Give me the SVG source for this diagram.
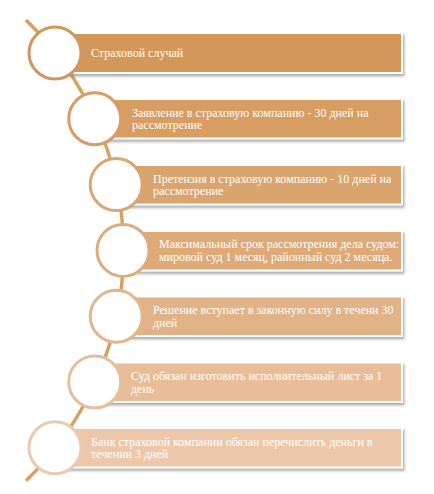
<svg xmlns="http://www.w3.org/2000/svg" width="434" height="494" viewBox="0 0 434 494">
<defs>
<filter id="sh" x="-5%" y="-20%" width="115%" height="160%">
<feDropShadow dx="1.5" dy="2.5" stdDeviation="1.2" flood-color="#707070" flood-opacity="0.55"/>
</filter>
<style>
.bar{stroke:#ffffff;stroke-width:2;filter:url(#sh)}
.dot{fill:#ffffff;stroke-width:3}
.t{font-family:"Liberation Serif","Times New Roman",serif;font-size:12px;fill:#ffffff}
.arc{fill:none;stroke:#D9A062;stroke-width:3.5}
</style>
</defs>
<rect width="434" height="494" fill="#ffffff"/>
<g id="connectors">
<path class="arc" d="M26,20 A321,321 0 0 1 26,480.8"/>
</g>
<g id="n1">
<rect class="bar" x="55" y="33" width="347" height="40" fill="#D4975A"/>
<circle class="dot" cx="55" cy="53" r="26" stroke="#D0985E"/>
<text class="t" x="91" y="57">Страховой случай</text>
</g>
<g id="n2">
<rect class="bar" x="95" y="99" width="307" height="39.5" fill="#D79D63"/>
<circle class="dot" cx="94.7" cy="118.8" r="26" stroke="#D49E66"/>
<text class="t" x="132" y="116.5">Заявление в страховую компанию - 30 дней на</text>
<text class="t" x="132" y="129">рассмотрение</text>
</g>
<g id="n3">
<rect class="bar" x="116" y="165" width="286" height="39.5" fill="#D9A46E"/>
<circle class="dot" cx="116.2" cy="184.6" r="26" stroke="#D8A672"/>
<text class="t" x="153" y="182.5">Претензия в страховую компанию - 10 дней на</text>
<text class="t" x="153" y="195">рассмотрение</text>
</g>
<g id="n4">
<rect class="bar" x="123" y="231" width="279" height="39.5" fill="#DDAA78"/>
<circle class="dot" cx="123" cy="250.4" r="26" stroke="#DCAC7E"/>
<text class="t" x="159" y="248">Максимальный срок рассмотрения дела судом:</text>
<text class="t" x="159" y="260.5">мировой суд 1 месяц, районный суд 2 месяца.</text>
</g>
<g id="n5">
<rect class="bar" x="116" y="296.5" width="286" height="39.5" fill="#E2B387"/>
<circle class="dot" cx="116.2" cy="316.2" r="26" stroke="#E0B68E"/>
<text class="t" x="153" y="314">Решение вступает в законную силу в течени 30</text>
<text class="t" x="153" y="326.5">дней</text>
</g>
<g id="n6">
<rect class="bar" x="95" y="362.5" width="307" height="39.5" fill="#E8BD98"/>
<circle class="dot" cx="94.7" cy="382" r="26" stroke="#E5C0A0"/>
<text class="t" x="131" y="380">Суд обязан изготовить исполнительный лист за 1</text>
<text class="t" x="131" y="392.5">день</text>
</g>
<g id="n7">
<rect class="bar" x="55" y="428" width="347" height="39.5" fill="#EDC7AA"/>
<circle class="dot" cx="55" cy="447.8" r="26" stroke="#E9CAB3"/>
<text class="t" x="91" y="445.5">Банк страховой компании обязан перечислить деньги в</text>
<text class="t" x="91" y="458">течении 3 дней</text>
</g>
</svg>
